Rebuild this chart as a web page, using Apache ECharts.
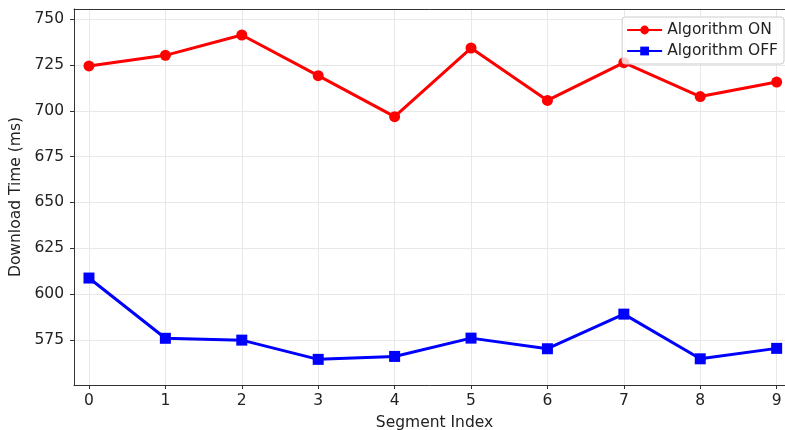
<!DOCTYPE html>
<html>
<head>
<meta charset="utf-8">
<script src="https://cdn.jsdelivr.net/npm/echarts@6/dist/echarts.min.js"></script>
<style>html,body{margin:0;padding:0;background:#fff}#c{width:785px;height:430px}</style>
</head>
<body>
<div id="c"></div>
<script>
const segments = [0, 1, 2, 3, 4, 5, 6, 7, 8, 9];
const algorithmOn = [724.5, 730.3, 741.4, 719.2, 696.8, 734.3, 705.7, 726.3, 707.8, 715.7];
const algorithmOff = [608.7, 575.8, 574.8, 564.3, 565.9, 575.9, 570.1, 589.0, 564.6, 570.3];
const yTicks = [575, 600, 625, 650, 675, 700, 725, 750];
const xTicks = [0, 1, 2, 3, 4, 5, 6, 7, 8, 9];

const font = 'DejaVu Sans';
const fs = 15.5;
const chart = echarts.init(document.getElementById('c'), null, {renderer: 'canvas'});
chart.setOption({
  animation: false,
  backgroundColor: '#fff',
  grid: {left: 74, right: -10, top: 9, bottom: 45, show: false,
         outerBoundsMode: 'none', containLabel: false},
  legend: {
    right: 1, top: 17, orient: 'vertical',
    backgroundColor: 'rgba(255,255,255,0.8)', borderColor: '#cccccc', borderWidth: 1, borderRadius: 3,
    padding: [5, 6, 5, 4], itemGap: 5, itemWidth: 35, itemHeight: 11,
    textStyle: {fontFamily: font, fontSize: fs, color: '#222'},
    data: ['Algorithm ON', 'Algorithm OFF']
  },
  xAxis: [{
    type: 'value', min: -0.196, max: 9.24,
    name: 'Segment Index', nameLocation: 'middle', nameGap: 30,
    nameTextStyle: {fontFamily: font, fontSize: fs, color: '#222'},
    axisLine: {show: true, onZero: false, lineStyle: {color: '#333', width: 1}},
    axisTick: {show: true, length: 4, customValues: xTicks, lineStyle: {color: '#333'}},
    axisLabel: {customValues: xTicks, fontFamily: font, fontSize: fs, color: '#222', margin: 8},
    splitLine: {show: true, lineStyle: {color: '#e8e8e8', width: 1}}
  }, {
    type: 'value', position: 'top', min: -0.196, max: 9.24,
    axisLine: {show: true, onZero: false, lineStyle: {color: '#333', width: 1}},
    axisTick: {show: false}, axisLabel: {show: false}, splitLine: {show: false}
  }],
  yAxis: {
    type: 'value', min: 550.3, max: 755.6,
    name: 'Download Time (ms)', nameLocation: 'middle', nameGap: 46,
    nameTextStyle: {fontFamily: font, fontSize: fs, color: '#222'},
    axisLine: {show: true, onZero: false, lineStyle: {color: '#333', width: 1}},
    axisTick: {show: true, length: 4, customValues: yTicks, lineStyle: {color: '#333'}},
    axisLabel: {customValues: yTicks, fontFamily: font, fontSize: fs, color: '#222', margin: 10},
    splitLine: {show: true, lineStyle: {color: '#e8e8e8', width: 1}}
  },
  series: [
    {
      name: 'Algorithm ON', type: 'line', xAxisIndex: 0,
      data: segments.map((s, i) => [s, algorithmOn[i]]),
      symbol: 'circle', symbolSize: 11,
      lineStyle: {color: '#ff0000', width: 3},
      itemStyle: {color: '#ff0000'}
    },
    {
      name: 'Algorithm OFF', type: 'line', xAxisIndex: 0,
      data: segments.map((s, i) => [s, algorithmOff[i]]),
      symbol: 'rect', symbolSize: 11,
      lineStyle: {color: '#0000ff', width: 3},
      itemStyle: {color: '#0000ff'}
    }
  ]
});
</script>
</body>
</html>
